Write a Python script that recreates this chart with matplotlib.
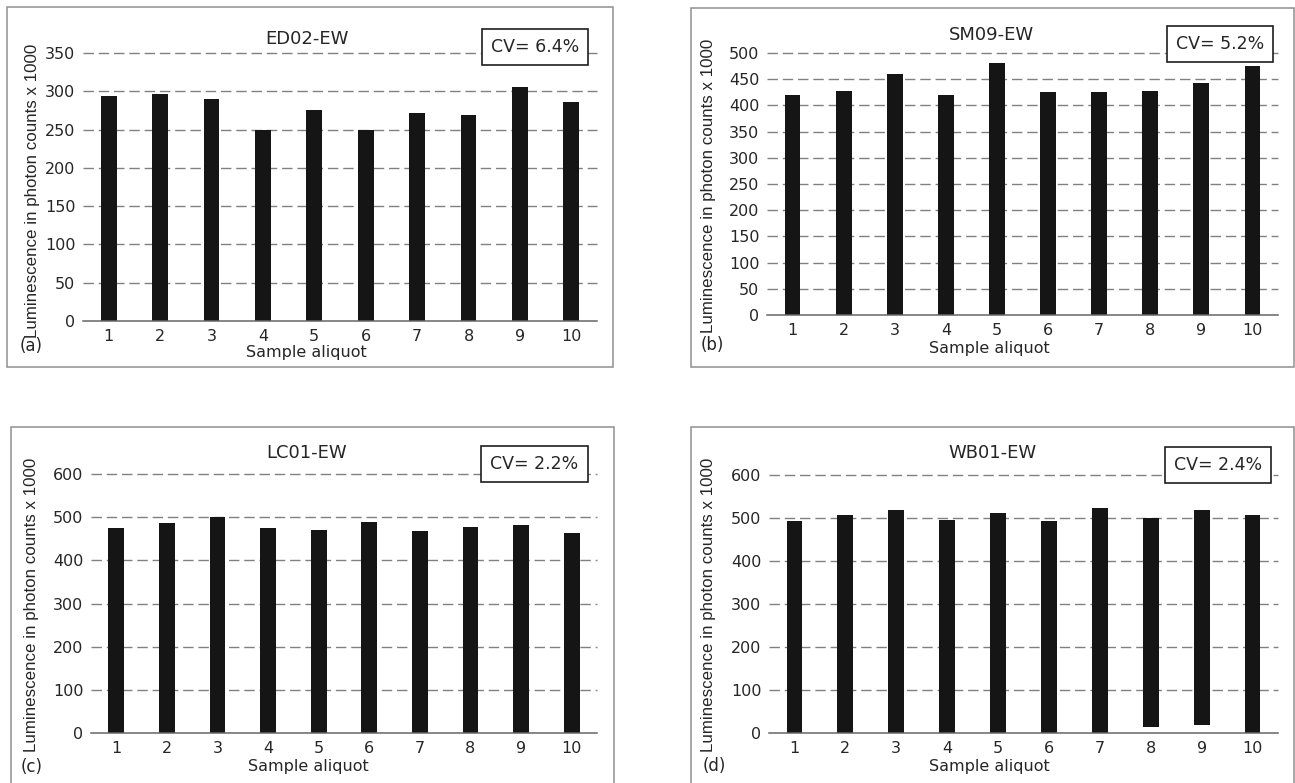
import matplotlib
matplotlib.use("Agg")
import matplotlib.pyplot as plt
from matplotlib.patches import Rectangle

# ---- data -------------------------------------------------------------
aliquots = [1, 2, 3, 4, 5, 6, 7, 8, 9, 10]

ed02_counts = [294, 297, 290, 250, 275, 249, 271, 269, 305, 286]
sm09_counts = [420, 428, 460, 419, 481, 425, 425, 428, 442, 476]
lc01_counts = [475, 487, 500, 474, 471, 488, 467, 477, 481, 463]
wb01_counts = [492, 507, 518, 495, 512, 493, 524, 500, 518, 506]
wb01_base = [0, 0, 0, 0, 0, 0, 0, 14, 19, 0]

ed02_ticks = [0, 50, 100, 150, 200, 250, 300, 350]
sm09_ticks = [0, 50, 100, 150, 200, 250, 300, 350, 400, 450, 500]
lc01_ticks = [0, 100, 200, 300, 400, 500, 600]
wb01_ticks = [0, 100, 200, 300, 400, 500, 600]

titles = ["ED02-EW", "SM09-EW", "LC01-EW", "WB01-EW"]
cv_labels = ["CV= 6.4%", "CV= 5.2%", "CV= 2.2%", "CV= 2.4%"]
panel_tags = ["(a)", "(b)", "(c)", "(d)"]
y_label = "Luminescence in photon counts x 1000"
x_label = "Sample aliquot"

# ---- layout (figure pixels) -------------------------------------------
W, H = 1295, 783
fig = plt.figure(figsize=(W / 100, H / 100), dpi=100)
fig.patch.set_facecolor("white")


def fx(x):
    return x / W


def fy(y):
    return 1 - y / H


layouts = [
    dict(axes=(83, 597, 53, 321), frame=(7, 7, 613, 367), title=(307, 39),
         cv=(482, 29, 588, 65), ylab=(33, 191), tag=(31, 346), xlab=(306, 353)),
    dict(axes=(767, 1278, 53, 315), frame=(691, 8, 1294, 367), title=(991, 35),
         cv=(1167, 26, 1273, 62), ylab=(709, 186), tag=(712, 345), xlab=(989, 348)),
    dict(axes=(91, 597, 474, 733), frame=(11, 427, 614, 800), title=(307, 453),
         cv=(481, 446, 588, 482), ylab=(32, 605), tag=(32, 767), xlab=(308, 766)),
    dict(axes=(769, 1278, 475, 733), frame=(691, 427, 1294, 800), title=(992, 453),
         cv=(1165, 447, 1271, 483), ylab=(709, 605), tag=(714, 766), xlab=(989, 767)),
]

series = [
    (ed02_counts, None, ed02_ticks),
    (sm09_counts, None, sm09_ticks),
    (lc01_counts, None, lc01_ticks),
    (wb01_counts, wb01_base, wb01_ticks),
]

TEXT = "#262626"
BAR = "#151515"
GRID = "#808080"
AXIS = "#666666"
FRAME = "#8f8f8f"

for i, ((tops, base, ticks), lay) in enumerate(zip(series, layouts)):
    # panel frame
    x0, y0, x1, y1 = lay["frame"]
    fig.add_artist(Rectangle((fx(x0), fy(y1)), fx(x1) - fx(x0), fy(y0) - fy(y1),
                             transform=fig.transFigure, fill=False,
                             edgecolor=FRAME, linewidth=1.1, zorder=0))

    l, r, t, b = lay["axes"]
    ax = fig.add_axes([fx(l), fy(b), fx(r) - fx(l), fy(t) - fy(b)])
    ax.set_facecolor("none")

    bottoms = base if base is not None else [0] * len(tops)
    heights = [tp - bt for tp, bt in zip(tops, bottoms)]
    ax.bar(aliquots, heights, bottom=bottoms, width=0.31, color=BAR,
           edgecolor="none", zorder=3)

    # dashed horizontal guides at every tick above zero
    for v in ticks[1:]:
        ax.axhline(v, color=GRID, linewidth=1.0, linestyle=(0, (7.5, 3.5)),
                   clip_on=False, zorder=1)

    ax.set_xlim(0.5, 10.5)
    ax.set_ylim(ticks[0], ticks[-1])
    ax.set_yticks(ticks)
    ax.set_xticks(aliquots)
    ax.tick_params(axis="both", length=0, labelsize=11.5, labelcolor=TEXT)
    ax.tick_params(axis="y", pad=5.5)
    ax.tick_params(axis="x", pad=6)

    for side in ("top", "right", "left"):
        ax.spines[side].set_visible(False)
    ax.spines["bottom"].set_color(AXIS)
    ax.spines["bottom"].set_linewidth(1.1)
    ax.spines["bottom"].set_zorder(4)

    # texts
    tx, ty = lay["title"]
    fig.text(fx(tx), fy(ty), titles[i], ha="center", va="center",
             fontsize=13, color=TEXT)
    lx, ly = lay["xlab"]
    fig.text(fx(lx), fy(ly), x_label, ha="center", va="center",
             fontsize=11.5, color=TEXT)
    yx, yy = lay["ylab"]
    fig.text(fx(yx), fy(yy), y_label, ha="center", va="center", rotation=90,
             fontsize=12.2, color=TEXT, family=["Liberation Sans", "DejaVu Sans"])
    gx, gy = lay["tag"]
    fig.text(fx(gx), fy(gy), panel_tags[i], ha="center", va="center",
             fontsize=12, color=TEXT)

    # CV box
    cx0, cy0, cx1, cy1 = lay["cv"]
    fig.add_artist(Rectangle((fx(cx0), fy(cy1)), fx(cx1) - fx(cx0), fy(cy0) - fy(cy1),
                             transform=fig.transFigure, facecolor="white",
                             edgecolor="#1e1e1e", linewidth=1.2, zorder=5))
    fig.text(fx((cx0 + cx1) / 2), fy((cy0 + cy1) / 2), cv_labels[i],
             ha="center", va="center", fontsize=12.5, color=TEXT, zorder=6)

fig.savefig("out.png", dpi=100, facecolor="white")
